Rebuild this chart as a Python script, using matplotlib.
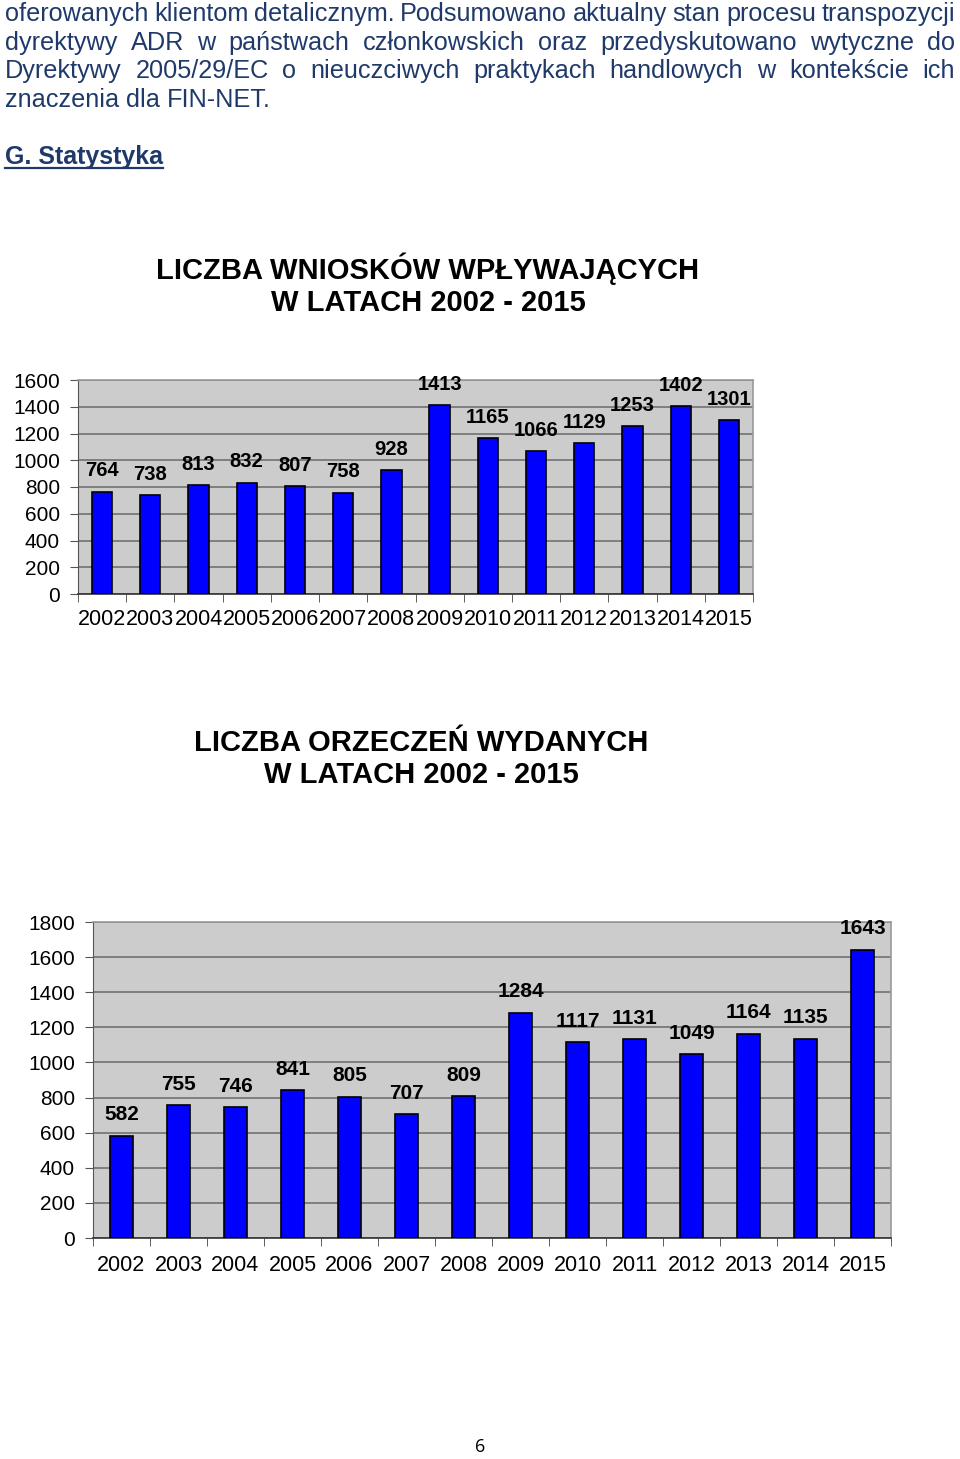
import matplotlib
matplotlib.use("Agg")
import matplotlib.pyplot as plt
from matplotlib.lines import Line2D
import numpy as np

plt.rcParams['font.family'] = ['Liberation Sans', 'DejaVu Sans']

# ---------------- data ----------------
years = ['2002', '2003', '2004', '2005', '2006', '2007', '2008',
         '2009', '2010', '2011', '2012', '2013', '2014', '2015']
wnioski = [764, 738, 813, 832, 807, 758, 928, 1413, 1165, 1066, 1129, 1253, 1402, 1301]
orzeczenia = [582, 755, 746, 841, 805, 707, 809, 1284, 1117, 1131, 1049, 1164, 1135, 1643]
ticks_top = [0, 200, 400, 600, 800, 1000, 1200, 1400, 1600]
ticks_bottom = [0, 200, 400, 600, 800, 1000, 1200, 1400, 1600, 1800]

para_lines = [
    "oferowanych klientom detalicznym. Podsumowano aktualny stan procesu transpozycji",
    "dyrektywy ADR w państwach członkowskich oraz przedyskutowano wytyczne do",
    "Dyrektywy 2005/29/EC o nieuczciwych praktykach handlowych w kontekście ich",
    "znaczenia dla FIN-NET.",
]
heading = "G. Statystyka"
title1 = "LICZBA WNIOSKÓW WPŁYWAJĄCYCH\nW LATACH 2002 - 2015"
title2 = "LICZBA ORZECZEŃ WYDANYCH\nW LATACH 2002 - 2015"
page_no = "6"

# ---------------- figure ----------------
W, H = 960, 1459
fig = plt.figure(figsize=(W / 100, H / 100), dpi=100)
fig.patch.set_facecolor('white')

def fx(px):
    return px / W

def fy(py):
    return 1 - py / H

text_col = '#1f3a6a'
renderer = fig.canvas.get_renderer()

# justified paragraph
para_fs = 18.2
left_px, right_px = 5, 955
baselines = [21, 50, 78, 107]
for i, line in enumerate(para_lines):
    words = line.split(' ')
    justify = i < len(para_lines) - 1
    arts = []
    widths = []
    for w in words:
        t = fig.text(0, fy(baselines[i]), w, fontsize=para_fs, color=text_col,
                     va='baseline', ha='left')
        bb = t.get_window_extent(renderer)
        arts.append(t)
        widths.append(bb.width)
    if justify and len(words) > 1:
        gap = (right_px - left_px - sum(widths)) / (len(words) - 1)
    else:
        sp = fig.text(0, 0, 'a a', fontsize=para_fs)
        s2 = fig.text(0, 0, 'aa', fontsize=para_fs)
        gap = sp.get_window_extent(renderer).width - s2.get_window_extent(renderer).width
        sp.remove(); s2.remove()
    x = left_px
    for t, wdt in zip(arts, widths):
        t.set_x(fx(x))
        x += wdt + gap

# heading with underline
ht = fig.text(fx(5), fy(164), heading, fontsize=18, fontweight='bold',
              color=text_col, va='baseline', ha='left')
hb = ht.get_window_extent(renderer)
fig.add_artist(Line2D([fx(5), fx(5) + hb.width / W], [fy(168), fy(168)],
                      color=text_col, lw=1.6, transform=fig.transFigure))

# titles
fig.text(fx(428), fy(285), title1, fontsize=21, fontweight='bold', color='black',
         ha='center', va='center', linespacing=1.2)
fig.text(fx(421), fy(759), title2, fontsize=21, fontweight='bold', color='black',
         ha='center', va='center', linespacing=1.2)

# page number
fig.text(fx(480), fy(1447), page_no, fontsize=13, color='black',
         ha='center', va='center', family=['Open Sans', 'DejaVu Sans'])


def draw_chart(ax, values, yticks, ymax, fs_x, fs_y, fs_lab, xpad, ypad):
    n = len(values)
    x = np.arange(n)
    ax.set_facecolor('#cccccc')
    ax.bar(x, values, width=0.42, color='#0000ff', edgecolor='black', linewidth=1.2,
           zorder=3)
    ax.set_xlim(-0.5, n - 0.5)
    ax.set_ylim(0, ymax)
    ax.set_yticks(yticks)
    ax.set_yticklabels([str(v) for v in yticks], fontsize=fs_y)
    ax.yaxis.grid(True, color='#6a6a6a', linewidth=1.1, zorder=1)
    ax.set_axisbelow(True)
    ax.set_xticks(x)
    ax.set_xticklabels(years, fontsize=fs_x)
    ax.set_xticks(np.arange(-0.5, n, 1.0), minor=True)
    ax.tick_params(axis='x', which='major', length=0, pad=xpad)
    ax.tick_params(axis='x', which='minor', length=6, color='#444444', direction='out')
    ax.tick_params(axis='y', length=6, color='#555555', direction='out', pad=ypad)
    for s in ['top', 'right']:
        ax.spines[s].set_color('#9a9a9a')
        ax.spines[s].set_linewidth(1.2)
    ax.spines['left'].set_color('#555555')
    ax.spines['bottom'].set_color('#333333')
    ax.spines['bottom'].set_linewidth(1.2)
    for xi, v in zip(x, values):
        ax.annotate(str(v), (xi, v), xytext=(0, 15), textcoords='offset points',
                    ha='center', va='center', fontsize=fs_lab, fontweight='bold',
                    annotation_clip=False, zorder=5)


ax1 = fig.add_axes([fx(78), fy(594), (753 - 78) / W, (594 - 380) / H])
draw_chart(ax1, wnioski, ticks_top, 1600, 15.5, 15, 14.5, 11, 7)

ax2 = fig.add_axes([fx(93), fy(1238), (891 - 93) / W, (1238 - 922) / H])
draw_chart(ax2, orzeczenia, ticks_bottom, 1800, 15.5, 15, 15, 12, 7)

fig.savefig('out.png', dpi=100)
